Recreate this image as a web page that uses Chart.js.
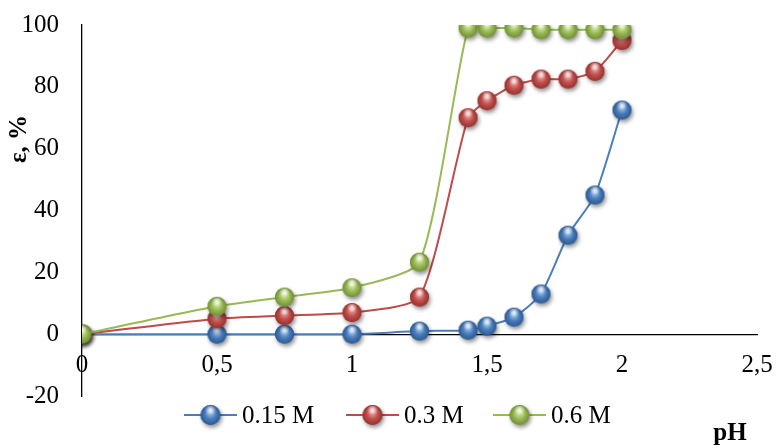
<!DOCTYPE html>
<html>
<head>
<meta charset="utf-8">
<script src="https://cdn.jsdelivr.net/npm/chart.js@4.4.1/dist/chart.umd.min.js"></script>
<style>
  html, body { margin: 0; padding: 0; background: #ffffff; }
  #wrap { width: 776px; height: 448px; position: relative; }
</style>
</head>
<body>
<div id="wrap"><canvas id="c" width="776" height="448"></canvas></div>
<script>
// ---- data ----
const pH = [0, 0.5, 0.75, 1, 1.25, 1.43, 1.5, 1.6, 1.7, 1.8, 1.9, 2.0];
const series015 = [0, 0, 0, 0, 1, 1.3, 2.6, 5.5, 13, 32, 45, 72.5];
const series03 = [0, 5, 6, 7, 12, 70, 75.5, 80.5, 82.5, 82.5, 85, 95];
const series06 = [0, 9, 12, 15, 23.3, 99, 99, 99, 98.5, 98.5, 98.5, 98.5];
const seriesLabels = ['0.15 M', '0.3 M', '0.6 M'];
const xTicks = [0, 0.5, 1, 1.5, 2, 2.5];
const yTicks = [-20, 0, 20, 40, 60, 80, 100];
const xTitle = 'pH';
const yTitle = 'ε, %';

// ---- styles ----
const FONT = '"Liberation Serif", "Times New Roman", serif';
const colors = [
  { line: '#4a7ebb', light: '#b4d2f4', base: '#4a7ebb', dark: '#1f4a82' },
  { line: '#be4b48', light: '#f4b0ae', base: '#c0504d', dark: '#842523' },
  { line: '#98b954', light: '#e2f2b4', base: '#9bbb59', dark: '#5e7d25' }
];

function makeSphere(c, r) {
  const pad = 6;
  const size = Math.ceil(2 * (r + pad));
  const cv = document.createElement('canvas');
  cv.width = size; cv.height = size;
  const g = cv.getContext('2d');
  const cx = size / 2, cy = size / 2;
  g.save();
  g.shadowColor = 'rgba(0,0,0,0.45)';
  g.shadowBlur = 4;
  g.shadowOffsetX = 1.5;
  g.shadowOffsetY = 2.5;
  g.beginPath(); g.arc(cx, cy, r, 0, Math.PI * 2);
  g.fillStyle = c.base; g.fill();
  g.restore();
  const grd = g.createRadialGradient(cx, cy - r * 0.35, r * 0.05, cx, cy + r * 0.1, r * 1.15);
  grd.addColorStop(0, c.light);
  grd.addColorStop(0.45, c.base);
  grd.addColorStop(1, c.dark);
  g.beginPath(); g.arc(cx, cy, r, 0, Math.PI * 2);
  g.fillStyle = grd; g.fill();
  const hg = g.createRadialGradient(cx, cy - r * 0.55, 0, cx, cy - r * 0.55, r * 0.55);
  hg.addColorStop(0, 'rgba(255,255,255,0.85)');
  hg.addColorStop(1, 'rgba(255,255,255,0)');
  g.beginPath(); g.ellipse(cx, cy - r * 0.5, r * 0.6, r * 0.42, 0, 0, Math.PI * 2);
  g.fillStyle = hg; g.fill();
  return cv;
}

const spheres = colors.map(c => makeSphere(c, 9.5));
const legendSpheres = colors.map(c => makeSphere(c, 10));

const allSeries = [series015, series03, series06];
const datasets = allSeries.map((vals, i) => ({
  label: seriesLabels[i],
  data: pH.map((x, k) => ({ x: x, y: vals[k] })),
  borderColor: colors[i].line,
  backgroundColor: colors[i].base,
  borderWidth: 2,
  tension: 0.2,
  pointStyle: spheres[i],
  pointRadius: 10,
  pointHoverRadius: 10,
  order: 2 - i,
  fill: false
}));

const extras = {
  id: 'extras',
  afterDraw(chart) {
    const ctx = chart.ctx;
    ctx.save();
    const starts = [184, 346, 493];
    const ly = 415;
    ctx.font = '25px ' + FONT;
    ctx.textBaseline = 'middle';
    ctx.textAlign = 'left';
    starts.forEach((sx, i) => {
      ctx.strokeStyle = colors[i].line;
      ctx.lineWidth = 2;
      ctx.beginPath(); ctx.moveTo(sx, ly); ctx.lineTo(sx + 53, ly); ctx.stroke();
      const s = legendSpheres[i];
      ctx.drawImage(s, sx + 26.5 - s.width / 2, ly - s.height / 2);
      ctx.fillStyle = '#000';
      ctx.fillText(seriesLabels[i], sx + 58, ly + 1);
    });
    ctx.font = 'bold 25px ' + FONT;
    ctx.fillStyle = '#000';
    ctx.textAlign = 'center';
    ctx.textBaseline = 'middle';
    ctx.fillText(xTitle, 730, 434);
    ctx.translate(20, 139);
    ctx.rotate(-Math.PI / 2);
    ctx.fillText(yTitle, 0, 0);
    ctx.restore();
  }
};

function zeroPad(s) {
  s.paddingTop = 0; s.paddingBottom = 0; s.paddingLeft = 0; s.paddingRight = 0;
}

new Chart(document.getElementById('c'), {
  type: 'line',
  data: { datasets },
  options: {
    responsive: false,
    animation: false,
    devicePixelRatio: 1,
    layout: { padding: { left: 0, right: 19, top: 25, bottom: 52 } },
    plugins: { legend: { display: false }, tooltip: { enabled: false } },
    scales: {
      x: {
        type: 'linear',
        position: { y: 0 },
        min: xTicks[0], max: xTicks[xTicks.length - 1],
        afterBuildTicks: s => { s.ticks = xTicks.map(v => ({ value: v })); },
        afterFit: zeroPad,
        grid: { display: false, drawTicks: false },
        border: { display: true, color: '#000', width: 1.3 },
        ticks: {
          color: '#000', padding: 16, maxRotation: 0, autoSkip: false,
          font: { family: FONT, size: 25 },
          callback: v => String(v).replace('.', ',')
        }
      },
      y: {
        type: 'linear',
        position: 'left',
        min: yTicks[0], max: yTicks[yTicks.length - 1],
        afterBuildTicks: s => { s.ticks = yTicks.map(v => ({ value: v })); },
        afterFit: s => { zeroPad(s); s.width = 82; },
        grid: { display: false, drawTicks: false },
        border: { display: true, color: '#000', width: 1.3 },
        ticks: {
          color: '#000', padding: 23,
          font: { family: FONT, size: 25 }
        }
      }
    }
  },
  plugins: [extras]
});
</script>
</body>
</html>
